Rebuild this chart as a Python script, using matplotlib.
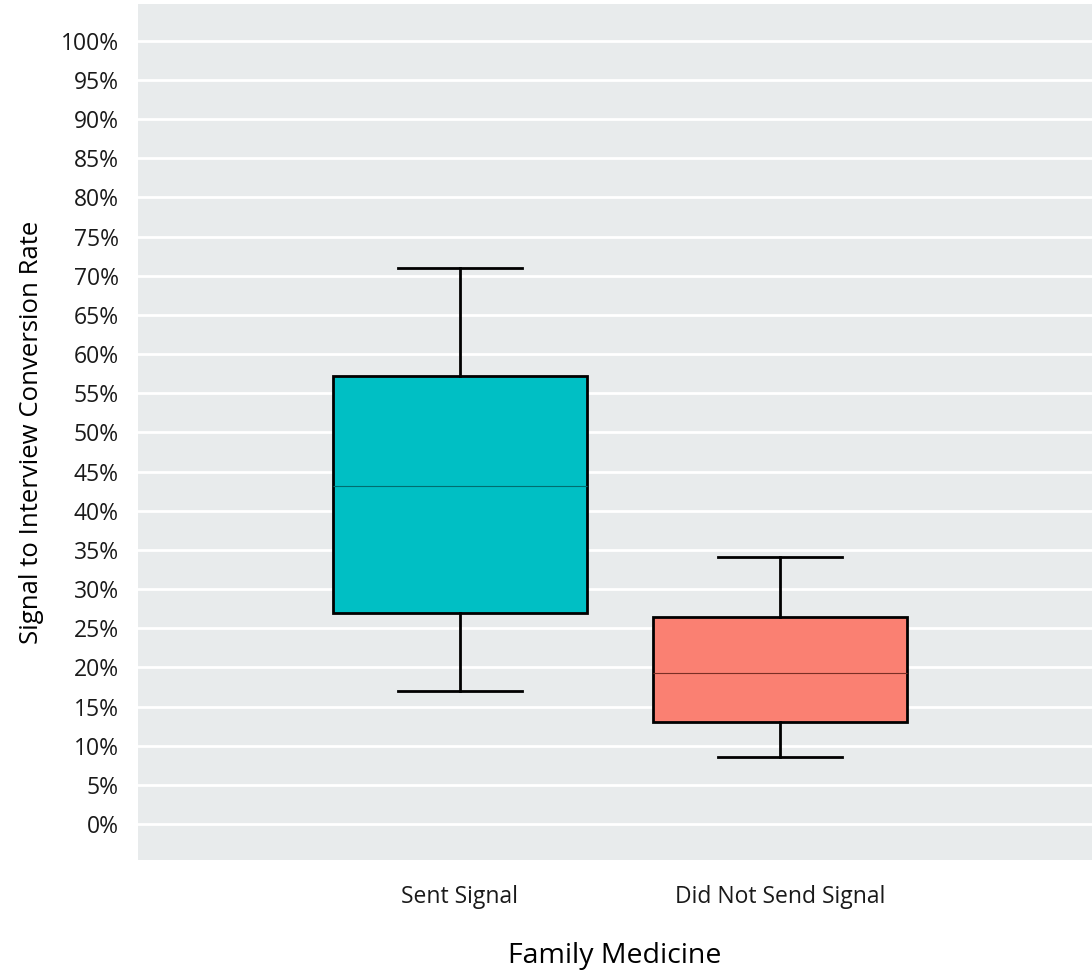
import matplotlib.pyplot as plt

plt.rcParams['font.family'] = ['Open Sans', 'DejaVu Sans']

groups = ['Sent Signal', 'Did Not Send Signal']
whislo = [17.0, 8.6]
q1 = [26.9, 13.0]
med = [43.2, 19.3]
q3 = [57.2, 26.4]
whishi = [71.0, 34.1]
colors = ['#00BFC4', '#FA8072']
yticks = list(range(0, 101, 5))

fig = plt.figure(figsize=(10.92, 9.75), dpi=100)
ax = fig.add_axes([0.1264, 0.1179, 0.8736, 0.878])
ax.set_facecolor('#E8EBEC')

stats = []
for i, g in enumerate(groups):
    stats.append({'label': g, 'whislo': whislo[i], 'q1': q1[i], 'med': med[i],
                  'q3': q3[i], 'whishi': whishi[i], 'fliers': []})

bp = ax.bxp(stats, positions=[0, 1], widths=0.795, patch_artist=True,
            showfliers=False,
            boxprops=dict(linewidth=2, edgecolor='black'),
            whiskerprops=dict(linewidth=2, color='black'),
            capprops=dict(linewidth=2, color='black'),
            medianprops=dict(linewidth=0.8, color='#333333'),
            capwidths=0.39)
for patch, c in zip(bp['boxes'], colors):
    patch.set_facecolor(c)
bp['medians'][0].set_color('#006E70')
bp['medians'][1].set_color('#7A2E25')

ax.set_xlim(-1.006, 1.975)
ax.set_ylim(-4.6, 104.7)
ax.set_yticks(yticks)
ax.set_yticklabels([f'{t}%' for t in yticks])
ax.grid(axis='y', color='white', linewidth=2)
ax.set_axisbelow(True)
for s in ax.spines.values():
    s.set_visible(False)
ax.tick_params(length=0, labelsize=16.5, colors='#1a1a1a', pad=14)
ax.tick_params(axis='x', pad=18)
ax.set_xlabel('Family Medicine', fontsize=20.5, labelpad=24)
ax.set_ylabel('Signal to Interview Conversion Rate', fontsize=18.5, labelpad=12)

fig.savefig('out.png', dpi=100)
